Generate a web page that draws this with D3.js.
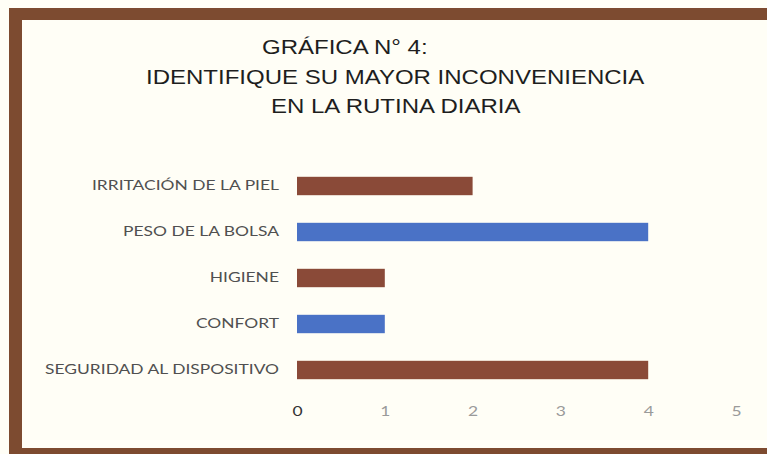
<!DOCTYPE html>
<html>
<head>
<meta charset="utf-8">
<script src="https://cdn.jsdelivr.net/npm/d3@7"></script>
<style>
  body { margin: 0; background: #fff; }
  svg { display: block; }
</style>
</head>
<body>
<div id="chart"></div>
<script>
var categories = ["IRRITACIÓN DE LA PIEL", "PESO DE LA BOLSA", "HIGIENE", "CONFORT", "SEGURIDAD AL DISPOSITIVO"];
var values = [2, 4, 1, 1, 4];
var barColors = ["#8a4a38", "#4a72c6", "#8a4a38", "#4a72c6", "#8a4a38"];
var tickValues = [0, 1, 2, 3, 4, 5];
var titleLines = ["GRÁFICA N° 4:", "IDENTIFIQUE SU MAYOR INCONVENIENCIA", "EN LA RUTINA DIARIA"];

var W = 767, H = 454;
// the original picture is a bit stretched sideways, text is widened to match
var stretch = 1.2, labelStretch = 1.34;

var svg = d3.select("#chart").append("svg")
    .attr("width", W)
    .attr("height", H);

// background + frame
svg.append("rect").attr("x", 0).attr("y", 0).attr("width", W).attr("height", H).style("fill", "#fffef6");
svg.append("rect").attr("x", 9).attr("y", 8).attr("width", W - 9).attr("height", 12).style("fill", "#7d4b30");
svg.append("rect").attr("x", 9).attr("y", 8).attr("width", 13).attr("height", H - 8).style("fill", "#7d4b30");
svg.append("rect").attr("x", 9).attr("y", 448).attr("width", W - 9).attr("height", 6).style("fill", "#7d4b30");

function widen(sel, k){
    sel.each(function(){
        var len = this.getComputedTextLength();
        d3.select(this).attr("textLength", len * k).attr("lengthAdjust", "spacingAndGlyphs");
    });
}

// title
var titleX = [262, 146, 271];
var titleY = [54, 84, 113];
titleLines.forEach(function(t, i){
    svg.append("text")
        .attr("x", titleX[i])
        .attr("y", titleY[i])
        .style("font-family", "'Liberation Sans', Arial, sans-serif")
        .style("font-size", "20px")
        .style("fill", "#1e1e1e")
        .text(t)
        .call(widen, stretch);
});

var xScale = d3.scaleLinear()
    .domain([0, 5])
    .range([297, 736]);

var yScale = d3.scaleBand()
    .domain(categories)
    .range([163, 393])
    .paddingInner(0.6)
    .paddingOuter(0.3);

svg.selectAll(".bar")
    .data(categories)
  .enter().append("rect")
    .attr("class", "bar")
    .attr("x", xScale(0))
    .attr("y", function(d){ return yScale(d); })
    .attr("width", function(d, i){ return xScale(values[i]) - xScale(0); })
    .attr("height", yScale.bandwidth())
    .style("fill", function(d, i){ return barColors[i]; });

// category labels
var yAxis = svg.append("g")
    .attr("transform", "translate(279,0)")
    .call(d3.axisLeft(yScale).tickSize(0).tickPadding(0));
yAxis.select(".domain").remove();
yAxis.selectAll("text")
    .style("font-family", "Lato, 'Open Sans', sans-serif")
    .style("font-size", "13px")
    .style("fill", "#505050")
    .call(widen, labelStretch);

// value axis
var xAxis = svg.append("g")
    .attr("transform", "translate(0,407)")
    .call(d3.axisBottom(xScale).tickValues(tickValues).tickSize(0).tickPadding(0).tickFormat(d3.format("d")));
xAxis.select(".domain").remove();
xAxis.selectAll("text")
    .style("font-family", "Lato, 'Open Sans', sans-serif")
    .style("font-size", "13px")
    .style("fill", function(d){ return d == 0 ? "#333" : "#9a9a9a"; })
    .call(widen, labelStretch);
</script>
</body>
</html>
